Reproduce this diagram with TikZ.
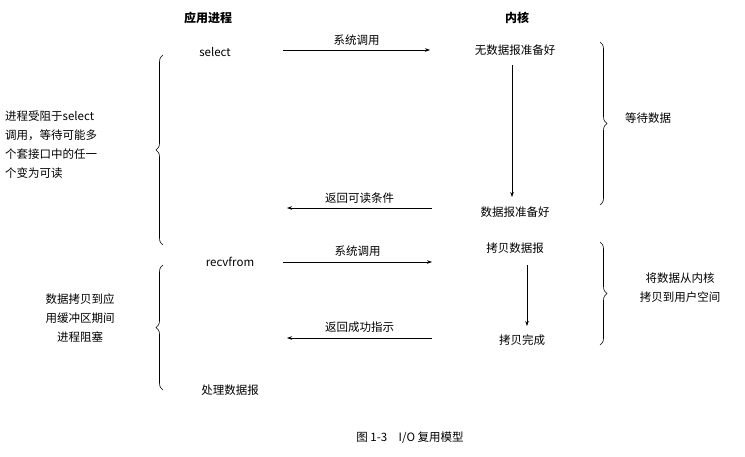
\documentclass[tikz,border=0pt]{standalone}
\usepackage{fontspec}
\setmainfont{Liberation Serif}
\newfontfamily\cjk{Noto Sans CJK SC}
\usetikzlibrary{decorations.pathreplacing,arrows.meta}
\begin{document}
\begin{tikzpicture}[x=1pt,y=-1pt,
  txt/.style={font=\cjk\fontsize{11.5}{19}\selectfont,inner sep=1pt},
  hd/.style={font=\cjk\bfseries\fontsize{12}{14}\selectfont},
  arr/.style={-{Stealth[length=5pt,width=3.5pt]},line width=0.6pt},
  br/.style={decorate,decoration={brace,amplitude=7pt},line width=0.6pt}]
\fill[white] (0,0) rectangle (745,456);
\node[hd] (h1) at (208,18) {应用进程};
\node[hd] (h2) at (517,18) {内核};
\node[txt] (sel) at (215,52) {select};
\node[txt] (n1) at (515,50) {无数据报准备好};
\coordinate (a1s) at (283,50); \coordinate (a1e) at (430,50);
\draw[arr] (a1s) -- node[txt,above=3pt] {系统调用} (a1e);
\coordinate (v1s) at (512,65); \coordinate (v1e) at (512,197);
\draw[arr] (v1s) -- (v1e);
\node[txt] (n2) at (515,212) {数据报准备好};
\coordinate (a2s) at (432,208); \coordinate (a2e) at (287,208);
\draw[arr] (a2s) -- node[txt,above=3pt] {返回可读条件} (a2e);
\node[txt] (rf) at (230,262) {recvfrom};
\coordinate (a3s) at (283,262); \coordinate (a3e) at (432,262);
\draw[arr] (a3s) -- node[txt,above=4pt] {系统调用} (a3e);
\node[txt] (n3) at (515,248) {拷贝数据报};
\coordinate (v2s) at (527,265); \coordinate (v2e) at (527,326);
\draw[arr] (v2s) -- (v2e);
\node[txt] (n4) at (522,340) {拷贝完成};
\coordinate (a4s) at (432,338); \coordinate (a4e) at (287,338);
\draw[arr] (a4s) -- node[txt,above=4pt] {返回成功指示} (a4e);
\node[txt] (proc) at (230,390) {处理数据报};
\coordinate (b1a) at (163,245); \coordinate (b1b) at (163,55);
\draw[br] (b1a) -- (b1b);
\node[txt,align=left,anchor=north west] (l1) at (4,110) {进程受阻于select\\调用，等待可能多\\个套接口中的任一\\个变为可读};
\coordinate (b2a) at (163,390); \coordinate (b2b) at (163,265);
\draw[br] (b2a) -- (b2b);
\node[txt,align=center] (l2) at (80,318) {数据拷贝到应\\用缓冲区期间\\进程阻塞};
\coordinate (b3a) at (600,42); \coordinate (b3b) at (600,205);
\draw[br] (b3a) -- (b3b);
\node[txt] (r1) at (648,118) {等待数据};
\coordinate (b4a) at (600,242); \coordinate (b4b) at (600,345);
\draw[br] (b4a) -- (b4b);
\node[txt,align=center] (r2) at (680,288) {将数据从内核\\拷贝到用户空间};
\node[txt] (cap) at (410,438) {图 1-3\quad I/O 复用模型};
\end{tikzpicture}
\end{document}
